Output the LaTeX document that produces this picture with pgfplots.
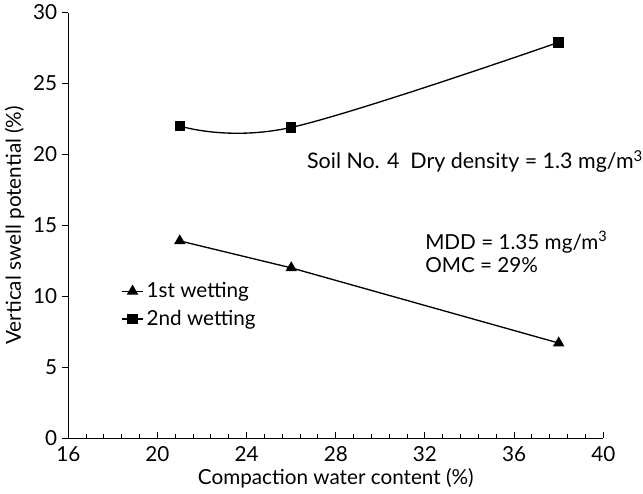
\documentclass[border=0pt]{standalone}
\usepackage{pgfplots}
\pgfplotsset{compat=1.18}
\usepackage{fontspec}
\setmainfont{Lato}
\begin{document}
\begin{tikzpicture}
\begin{axis}[
  scale only axis,
  width=362pt, height=288pt,
  xmin=16, xmax=40, ymin=0, ymax=30,
  axis lines*=left,
  axis line style={line width=0.8pt},
  xtick={16,20,...,40},
  ytick={0,5,...,30},
  minor x tick num=4,
  xtick align=inside,
  ytick align=outside,
  ytick pos=left, xtick pos=bottom,
  major tick length=4pt,
  minor tick length=3pt,
  every tick/.style={black, line width=0.7pt},
  /pgf/number format/assume math mode=true,
  tick label style={font=\fontsize{14}{17}\selectfont},
  label style={font=\fontsize{14}{17}\selectfont},
  xlabel={Compaction water content (\%)},
  ylabel={Vertical swell potential (\%)},
  xlabel style={yshift=2pt},
  ylabel style={yshift=-1pt},
  xticklabel style={yshift=-2pt},
  clip=false,
  legend style={draw=none, fill=none, at={(axis cs:18.3,11.3)}, anchor=north west,
    font=\fontsize{14}{17}\selectfont, row sep=3pt, inner sep=1pt},
  legend cell align=left,
  legend image code/.code={\draw[mark repeat=2,mark phase=2] plot coordinates {(0cm,0cm)(0.25cm,0cm)(0.5cm,0cm)};},
]
\addplot[black, line width=0.9pt, mark=triangle*, mark size=3.6pt, mark options={solid}]
  coordinates {(21,13.9) (26,12.0) (38,6.7)};
\addlegendentry{1st wetting}
\addplot[black, line width=0.9pt, smooth, tension=0.6, mark=square*, mark size=3.1pt]
  coordinates {(21,22.0) (26,21.9) (38,27.9)};
\addlegendentry{2nd wetting}
\node[anchor=west, font=\fontsize{14.5}{17}\selectfont, inner sep=0pt] at (axis cs:26.7,19.5)
  {Soil No. 4\ \ Dry density = 1.3 mg/m\textsuperscript{3}};
\node[anchor=west, font=\fontsize{14}{17}\selectfont, inner sep=0pt] at (axis cs:32,13.8)
  {MDD = 1.35 mg/m\textsuperscript{3}};
\node[anchor=west, font=\fontsize{14}{17}\selectfont, inner sep=0pt] at (axis cs:32,12.2)
  {OMC = 29\%};
\end{axis}
\end{tikzpicture}
\end{document}
